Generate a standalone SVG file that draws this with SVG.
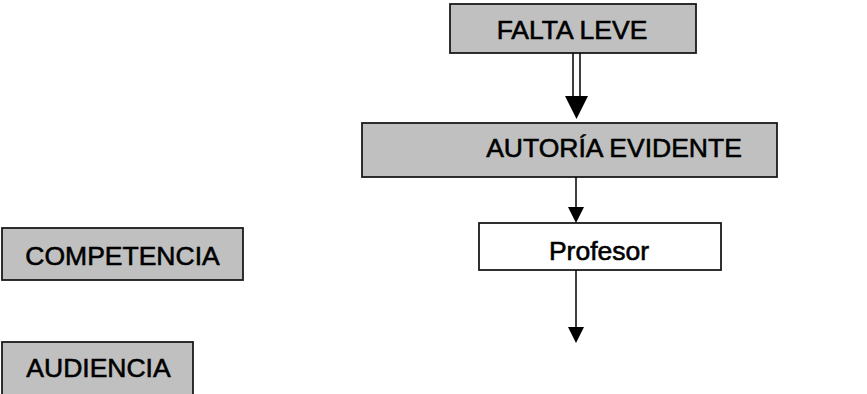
<svg xmlns="http://www.w3.org/2000/svg" width="867" height="394" viewBox="0 0 867 394">
<style>
.box{fill:#c0c0c0;stroke:#1a1a1a;stroke-width:1.8}
.wbox{fill:#ffffff;stroke:#1a1a1a;stroke-width:1.8}
.t{font-family:"Liberation Sans",Arial,sans-serif;font-size:26.5px;fill:#000;stroke:#000;stroke-width:0.6;text-anchor:middle}
.ln{stroke:#000;stroke-width:1.5;fill:none}
</style>
<rect width="867" height="394" fill="#fff"/>
<g id="falta-leve">
<rect class="box" x="450" y="4" width="246" height="49"/>
<text class="t" x="572" y="39">FALTA LEVE</text>
</g>
<g id="autoria-evidente">
<rect class="box" x="362" y="123" width="415" height="54"/>
<text class="t" x="614" y="157">AUTORÍA EVIDENTE</text>
</g>
<g id="profesor">
<rect class="wbox" x="479" y="223" width="242" height="47"/>
<text class="t" x="599" y="260">Profesor</text>
</g>
<g id="competencia">
<rect class="box" x="2" y="228" width="241" height="52"/>
<text class="t" x="122.5" y="265">COMPETENCIA</text>
</g>
<g id="audiencia">
<rect class="box" x="2" y="342" width="191" height="60"/>
<text class="t" x="98.5" y="377">AUDIENCIA</text>
</g>
<g id="connectors">
<line class="ln" x1="573" y1="53" x2="573" y2="97"/>
<line class="ln" x1="580" y1="53" x2="580" y2="97"/>
<path d="M565,96 L588,96 L576.5,119 Z" fill="#000"/>
<line class="ln" x1="576" y1="177" x2="576" y2="208"/>
<path d="M568,207 L584,207 L576,223 Z" fill="#000"/>
<line class="ln" x1="576" y1="270" x2="576" y2="328"/>
<path d="M568,327 L584,327 L576,343 Z" fill="#000"/>
</g>
</svg>
